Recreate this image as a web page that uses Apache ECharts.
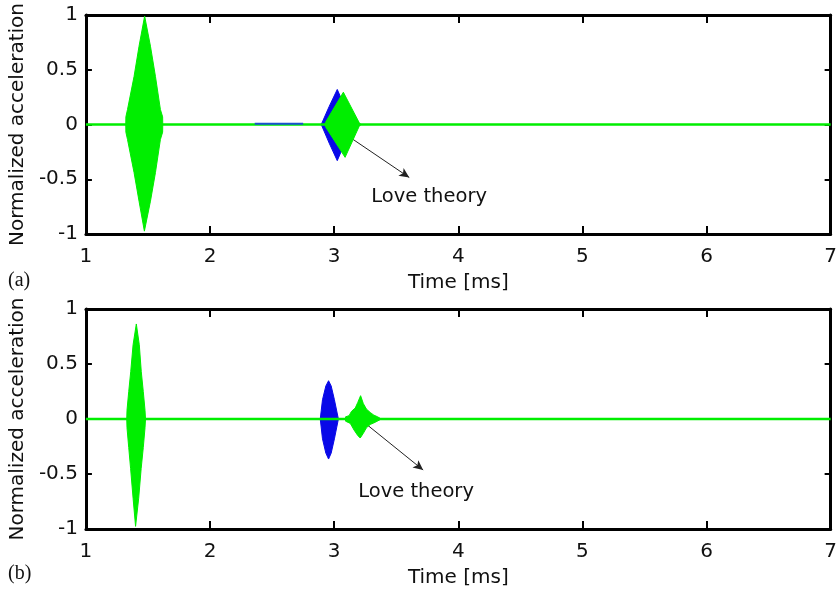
<!DOCTYPE html>
<html>
<head>
<meta charset="utf-8">
<script src="https://cdn.jsdelivr.net/npm/echarts@6/dist/echarts.min.js"></script>
<style>
html,body{margin:0;padding:0;background:#fff;}
#chart{width:840px;height:590px;}
</style>
</head>
<body>
<div id="chart"></div>
<script>
// ---- axis ticks ----
const xTicks = [1, 7, 1];          // min, max, interval (Time [ms])
const yTicks = [-1, 1, 0.5];       // min, max, interval
const baseline = [[1, 0], [7, 0]];

// ---- panel (a) : envelopes [time, value] ----
const aGreen1Up = [[1.321,0],[1.322,0.07],[1.335,0.137],[1.388,0.44],[1.428,0.715],[1.473,0.99],[1.52,0.715],[1.56,0.44],[1.60,0.137],[1.618,0.07],[1.619,0]];
const aGreen1Lo = [[1.321,0],[1.322,-0.07],[1.335,-0.137],[1.388,-0.44],[1.428,-0.70],[1.471,-0.974],[1.52,-0.70],[1.56,-0.44],[1.60,-0.137],[1.618,-0.07],[1.619,0]];
const aBlueUp = [[2.896,0],[2.96,0.165],[3.025,0.32],[3.15,0]];
const aBlueLo = [[2.896,0],[2.96,-0.17],[3.025,-0.33],[3.15,0]];
const aBlueSeg = [[2.36,0.006],[2.75,0.006]];
const aGreen2Up = [[2.925,0],[2.93,0.02],[3.074,0.295],[3.20,0.02],[3.215,0]];
const aGreen2Lo = [[2.925,0],[2.93,-0.02],[3.088,-0.30],[3.20,-0.02],[3.215,0]];
const aArrow = [[3.07,-0.073],[3.605,-0.484]];
const aText = [3.765,-0.66];

// ---- panel (b) ----
const bGreen1Up = [[1.329,0],[1.331,0.08],[1.345,0.25],[1.361,0.43],[1.38,0.675],[1.406,0.864],[1.43,0.675],[1.446,0.43],[1.462,0.25],[1.476,0.08],[1.48,0]];
const bGreen1Lo = [[1.329,0],[1.331,-0.08],[1.345,-0.26],[1.36,-0.45],[1.38,-0.72],[1.40,-0.976],[1.425,-0.72],[1.445,-0.45],[1.462,-0.26],[1.476,-0.08],[1.48,0]];
const bBlueUp = [[2.888,0],[2.906,0.175],[2.933,0.30],[2.955,0.348],[2.976,0.30],[3.002,0.175],[3.034,0]];
const bBlueLo = [[2.888,0],[2.906,-0.18],[2.933,-0.31],[2.955,-0.364],[2.976,-0.31],[3.002,-0.18],[3.034,0]];
const bGreen2Up = [[3.09,0],[3.092,0.02],[3.12,0.03],[3.14,0.07],[3.17,0.10],[3.19,0.15],[3.213,0.212],[3.235,0.14],[3.26,0.09],[3.29,0.06],[3.32,0.035],[3.35,0.02],[3.38,0]];
const bGreen2Lo = [[3.09,0],[3.092,-0.02],[3.13,-0.04],[3.16,-0.10],[3.19,-0.15],[3.21,-0.173],[3.235,-0.13],[3.26,-0.08],[3.29,-0.05],[3.33,-0.03],[3.38,0]];
const bArrow = [[3.247,-0.036],[3.717,-0.464]];
const bText = [3.66,-0.66];

const annotation = 'Love theory';
const panelTags = ['(a)', '(b)'];

const GREEN = '#00ee00';
const BLUE = '#0808e8';
const FONT = 'DejaVu Sans';

function env(data, color, xi, z) {
  return {
    type: 'line', xAxisIndex: xi, yAxisIndex: xi, data: data,
    symbol: 'none', z: z, silent: true,
    lineStyle: { color: color, width: 1 },
    areaStyle: { color: color, opacity: 1, origin: 0 }
  };
}
function line(data, color, xi, z, w) {
  return {
    type: 'line', xAxisIndex: xi, yAxisIndex: xi, data: data,
    symbol: 'none', z: z, silent: true,
    lineStyle: { color: color, width: w }
  };
}
function annot(arrow, textPos, xi) {
  return {
    type: 'line', xAxisIndex: xi, yAxisIndex: xi, data: [], symbol: 'none', z: 10,
    markLine: {
      silent: true, symbol: ['none', 'arrow'], symbolSize: [7, 10],
      lineStyle: { color: '#222', width: 1, type: 'solid' },
      label: { show: false },
      data: [[{ coord: arrow[0] }, { coord: arrow[1] }]]
    },
    markPoint: {
      silent: true, symbol: 'circle', symbolSize: 0,
      label: { show: true, position: 'inside', formatter: annotation, color: '#111', fontFamily: FONT, fontSize: 19.5 },
      data: [{ coord: textPos }]
    }
  };
}

const grids = [
  { left: 83, top: 15, width: 753, height: 219 },
  { left: 83, top: 309, width: 753, height: 220 }
];

function frameLine() { return { show: true, onZero: false, lineStyle: { color: '#000', width: 3 } }; }
function ticks(len) { return { show: true, inside: true, length: len, lineStyle: { color: '#000', width: 2 } }; }

function xMain(g) {
  return {
    type: 'value', gridIndex: g, min: xTicks[0], max: xTicks[1], interval: xTicks[2],
    position: 'bottom', name: 'Time [ms]', nameLocation: 'middle', nameGap: 39,
    nameTextStyle: { color: '#111', fontFamily: FONT, fontSize: 20 },
    axisLine: frameLine(), axisTick: ticks(8),
    axisLabel: { color: '#111', fontFamily: FONT, fontSize: 20, margin: 13 },
    splitLine: { show: false }
  };
}
function xTop(g) {
  return {
    type: 'value', gridIndex: g, min: xTicks[0], max: xTicks[1], interval: xTicks[2],
    position: 'top', axisLine: frameLine(), axisTick: ticks(8),
    axisLabel: { show: false }, splitLine: { show: false }
  };
}
function yMain(g) {
  return {
    type: 'value', gridIndex: g, min: yTicks[0], max: yTicks[1], interval: yTicks[2],
    position: 'left', name: 'Normalized acceleration', nameLocation: 'middle', nameGap: 55,
    nameTextStyle: { color: '#111', fontFamily: FONT, fontSize: 20 },
    axisLine: frameLine(), axisTick: ticks(6),
    axisLabel: { color: '#111', fontFamily: FONT, fontSize: 20, margin: 8 },
    splitLine: { show: false }
  };
}
function yRight(g) {
  return {
    type: 'value', gridIndex: g, min: yTicks[0], max: yTicks[1], interval: yTicks[2],
    position: 'right', axisLine: frameLine(), axisTick: ticks(6),
    axisLabel: { show: false }, splitLine: { show: false }
  };
}

const option = {
  animation: false,
  backgroundColor: '#fff',
  grid: grids,
  xAxis: [xMain(0), xTop(0), xMain(1), xTop(1)],
  yAxis: [yMain(0), yRight(0), yMain(1), yRight(1)],
  series: [
    // panel (a)
    env(aBlueUp, BLUE, 0, 2), env(aBlueLo, BLUE, 0, 2),
    line(baseline, GREEN, 0, 3, 2.5),
    line(aBlueSeg, '#1a50d0', 0, 4, 2),
    env(aGreen1Up, GREEN, 0, 5), env(aGreen1Lo, GREEN, 0, 5),
    env(aGreen2Up, GREEN, 0, 5), env(aGreen2Lo, GREEN, 0, 5),
    annot(aArrow, aText, 0),
    // panel (b)
    env(bBlueUp, BLUE, 2, 2), env(bBlueLo, BLUE, 2, 2),
    line(baseline, GREEN, 2, 3, 2.5),
    env(bGreen1Up, GREEN, 2, 5), env(bGreen1Lo, GREEN, 2, 5),
    env(bGreen2Up, GREEN, 2, 5), env(bGreen2Lo, GREEN, 2, 5),
    annot(bArrow, bText, 2)
  ],
  graphic: [
    { type: 'text', left: 8, top: 271, style: { text: panelTags[0], font: '20px "Liberation Serif"', fill: '#111' } },
    { type: 'text', left: 8, top: 564, style: { text: panelTags[1], font: '20px "Liberation Serif"', fill: '#111' } }
  ]
};

const chart = echarts.init(document.getElementById('chart'), null, { renderer: 'canvas' });
chart.setOption(option);
</script>
</body>
</html>
